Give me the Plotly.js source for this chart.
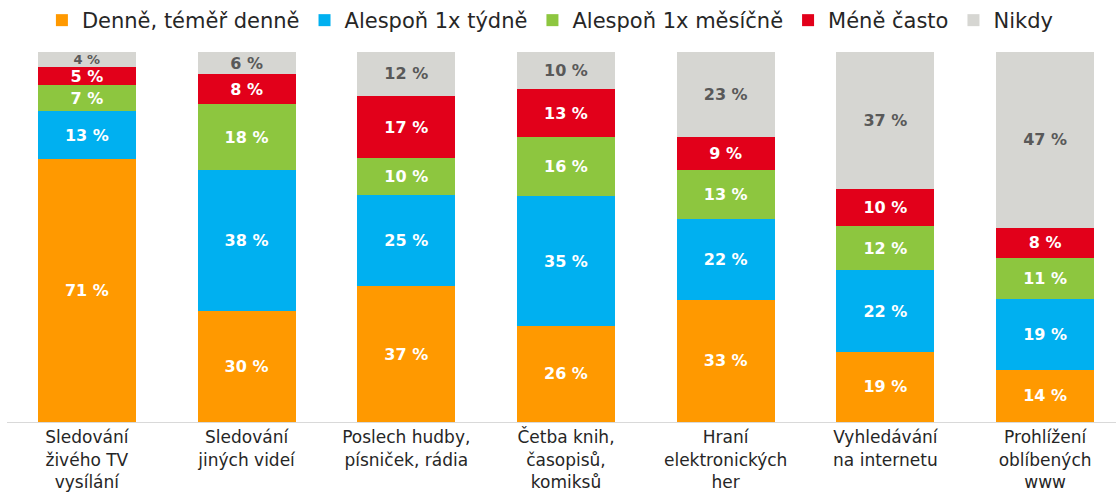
<!DOCTYPE html>
<html>
<head>
<meta charset="utf-8">
<script src="https://cdn.plot.ly/plotly-3.0.1.min.js"></script>
<style>html,body{margin:0;padding:0;background:#fff;}#chart{width:1116px;height:492px;}</style>
</head>
<body>
<div id="chart"></div>
<script>
const categories = [
  "Sledování<br>živého TV<br>vysílání",
  "Sledování<br>jiných videí",
  "Poslech hudby,<br>písniček, rádia",
  "Četba knih,<br>časopisů,<br>komiksů",
  "Hraní<br>elektronických<br>her",
  "Vyhledávání<br>na internetu",
  "Prohlížení<br>oblíbených<br>www"
];
const seriesNames = ["Denně, téměř denně", "Alespoň 1x týdně", "Alespoň 1x měsíčně", "Méně často", "Nikdy"];
const denne   = [71, 30, 37, 26, 33, 19, 14];
const tydne   = [13, 38, 25, 35, 22, 22, 19];
const mesicne = [7, 18, 10, 16, 13, 12, 11];
const meneCasto = [5, 8, 17, 13, 9, 10, 8];
const nikdy   = [4, 6, 12, 10, 23, 37, 47];

const seriesValues = [denne, tydne, mesicne, meneCasto, nikdy];
const colors = ["#FF9900", "#00B0F0", "#8DC63F", "#E2001A", "#D6D6D2"];
const textColors = ["#FFFFFF", "#FFFFFF", "#FFFFFF", "#FFFFFF", "#595959"];

const traces = seriesValues.map((vals, i) => ({
  type: "bar",
  name: seriesNames[i],
  x: categories,
  y: vals,
  text: vals.map(v => v + " %"),
  textposition: "inside",
  insidetextanchor: "middle",
  textangle: 0,
  constraintext: "none",
  textfont: {family: "DejaVu Sans, sans-serif", size: vals.map(v => v < 5 ? 13 : 16), color: textColors[i], weight: "bold"},
  marker: {color: colors[i], line: {width: 0}},
  hoverinfo: "none"
}));

const layout = {
  width: 1116,
  height: 492,
  barmode: "stack",
  barnorm: "percent",
  bargap: 0.386,
  margin: {l: 7, r: 0, t: 52, b: 70},
  paper_bgcolor: "#FFFFFF",
  plot_bgcolor: "#FFFFFF",
  font: {family: "DejaVu Sans, sans-serif", color: "#262626"},
  showlegend: true,
  legend: {
    orientation: "h",
    x: 0.49, xanchor: "center",
    y: 1.086, yanchor: "middle",
    font: {size: 21, color: "#262626"},
    itemwidth: 30,
    traceorder: "normal"
  },
  xaxis: {
    type: "category",
    range: [-0.5, 6.444],
    showline: true,
    linecolor: "#D9D9D9",
    linewidth: 1,
    ticks: "",
    tickfont: {size: 17, color: "#262626"},
    fixedrange: true
  },
  yaxis: {
    range: [0, 100],
    visible: false,
    showgrid: false,
    zeroline: false,
    fixedrange: true
  }
};

Plotly.newPlot("chart", traces, layout, {displayModeBar: false, staticPlot: true});
</script>
</body>
</html>
